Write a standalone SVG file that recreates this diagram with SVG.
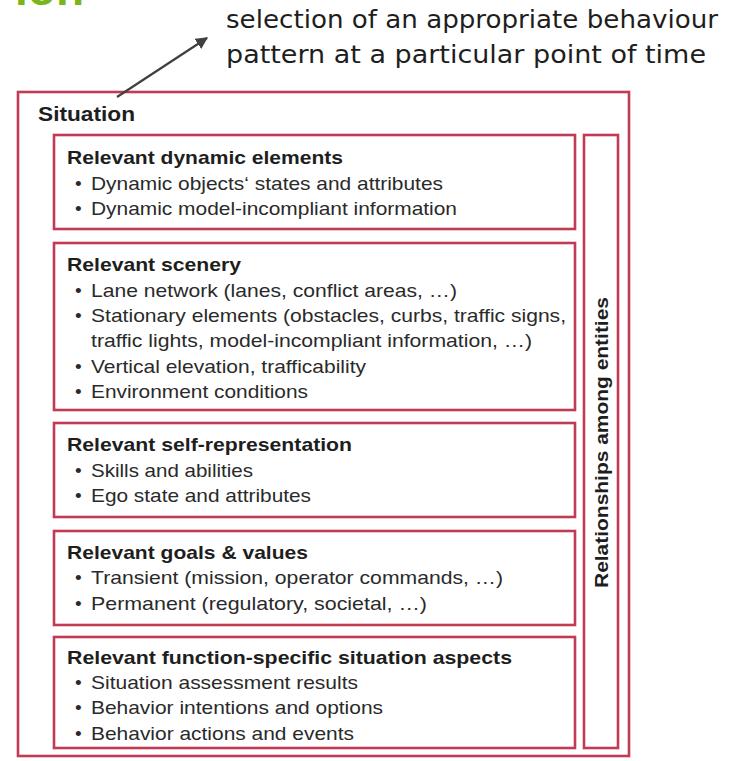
<svg xmlns="http://www.w3.org/2000/svg" width="749" height="761" viewBox="0 0 749 761">
  <style>
    .frame { fill: #ffffff; stroke: #c23b55; stroke-width: 2.6; }
    .title { font-family: "Liberation Sans", Arial, sans-serif; font-weight: bold; font-size: 19px; fill: #1e1e1e; }
    .item { font-family: "Liberation Sans", Arial, sans-serif; font-size: 19px; fill: #2a2a2a; }
    .note { font-family: "DejaVu Sans", Verdana, sans-serif; font-size: 24px; fill: #1e1e1e; }
    .head { font-family: "Liberation Sans", Arial, sans-serif; font-weight: bold; font-size: 21px; fill: #1e1e1e; }
  </style>
  <defs>
    <marker id="arrowhead" viewBox="0 0 10 10" refX="9" refY="5" markerWidth="5.5" markerHeight="5.5" orient="auto" markerUnits="strokeWidth">
      <path d="M0,0 L10,5 L0,10 z" fill="#404040"/>
    </marker>
  </defs>
  <rect width="749" height="761" fill="#ffffff"/>

  <!-- slide heading running off the top edge -->
  <text x="84" y="5" text-anchor="end" font-family="Liberation Sans, Arial, sans-serif" font-weight="bold" font-size="46" fill="#7ab51d">ion</text>

  <!-- annotation -->
  <g id="annotation">
    <text class="note" x="226" y="28" textLength="492" lengthAdjust="spacingAndGlyphs">selection of an appropriate behaviour</text>
    <text class="note" x="226" y="63" textLength="480" lengthAdjust="spacingAndGlyphs">pattern at a particular point of time</text>
  </g>

  <!-- outer situation frame -->
  <g id="situation">
    <rect class="frame" x="18" y="92" width="611" height="664"/>
    <text class="head" x="38" y="121" textLength="97" lengthAdjust="spacingAndGlyphs">Situation</text>
  </g>

  <g id="dynamic-elements">
    <rect class="frame" x="54" y="135" width="521" height="94"/>
    <text class="title" x="67" y="164" textLength="276" lengthAdjust="spacingAndGlyphs">Relevant dynamic elements</text>
    <text class="item" x="75" y="190">•</text>
    <text class="item" x="91" y="190" textLength="352" lengthAdjust="spacingAndGlyphs">Dynamic objects‘ states and attributes</text>
    <text class="item" x="75" y="215">•</text>
    <text class="item" x="91" y="215" textLength="366" lengthAdjust="spacingAndGlyphs">Dynamic model-incompliant information</text>
  </g>

  <g id="scenery">
    <rect class="frame" x="54" y="243" width="521" height="167"/>
    <text class="title" x="67" y="271" textLength="174" lengthAdjust="spacingAndGlyphs">Relevant scenery</text>
    <text class="item" x="75" y="297">•</text>
    <text class="item" x="91" y="297" textLength="366" lengthAdjust="spacingAndGlyphs">Lane network (lanes, conflict areas, …)</text>
    <text class="item" x="75" y="322">•</text>
    <text class="item" x="91" y="322" textLength="475" lengthAdjust="spacingAndGlyphs">Stationary elements (obstacles, curbs, traffic signs,</text>
    <text class="item" x="91" y="347" textLength="441" lengthAdjust="spacingAndGlyphs">traffic lights, model-incompliant information, …)</text>
    <text class="item" x="75" y="373">•</text>
    <text class="item" x="91" y="373" textLength="275" lengthAdjust="spacingAndGlyphs">Vertical elevation, trafficability</text>
    <text class="item" x="75" y="398">•</text>
    <text class="item" x="91" y="398" textLength="217" lengthAdjust="spacingAndGlyphs">Environment conditions</text>
  </g>

  <g id="self-representation">
    <rect class="frame" x="54" y="423" width="521" height="94"/>
    <text class="title" x="67" y="451" textLength="285" lengthAdjust="spacingAndGlyphs">Relevant self-representation</text>
    <text class="item" x="75" y="477">•</text>
    <text class="item" x="91" y="477" textLength="162" lengthAdjust="spacingAndGlyphs">Skills and abilities</text>
    <text class="item" x="75" y="502">•</text>
    <text class="item" x="91" y="502" textLength="220" lengthAdjust="spacingAndGlyphs">Ego state and attributes</text>
  </g>

  <g id="goals-values">
    <rect class="frame" x="54" y="531" width="521" height="94"/>
    <text class="title" x="67" y="559" textLength="241" lengthAdjust="spacingAndGlyphs">Relevant goals &amp; values</text>
    <text class="item" x="75" y="584">•</text>
    <text class="item" x="91" y="584" textLength="412" lengthAdjust="spacingAndGlyphs">Transient (mission, operator commands, …)</text>
    <text class="item" x="75" y="610">•</text>
    <text class="item" x="91" y="610" textLength="336" lengthAdjust="spacingAndGlyphs">Permanent (regulatory, societal, …)</text>
  </g>

  <g id="function-specific">
    <rect class="frame" x="54" y="637" width="521" height="111"/>
    <text class="title" x="67" y="664" textLength="445" lengthAdjust="spacingAndGlyphs">Relevant function-specific situation aspects</text>
    <text class="item" x="75" y="689">•</text>
    <text class="item" x="91" y="689" textLength="267" lengthAdjust="spacingAndGlyphs">Situation assessment results</text>
    <text class="item" x="75" y="714">•</text>
    <text class="item" x="91" y="714" textLength="292" lengthAdjust="spacingAndGlyphs">Behavior intentions and options</text>
    <text class="item" x="75" y="740">•</text>
    <text class="item" x="91" y="740" textLength="263" lengthAdjust="spacingAndGlyphs">Behavior actions and events</text>
  </g>

  <g id="relationships">
    <rect class="frame" x="584" y="135" width="34" height="613"/>
    <text class="title" transform="translate(608,588) rotate(-90)" x="0" y="0" textLength="291" lengthAdjust="spacingAndGlyphs">Relationships among entities</text>
  </g>

  <!-- connectors -->
  <g id="connectors">
    <line x1="117" y1="97" x2="207" y2="38" stroke="#404040" stroke-width="2.2" marker-end="url(#arrowhead)"/>
  </g>
</svg>
